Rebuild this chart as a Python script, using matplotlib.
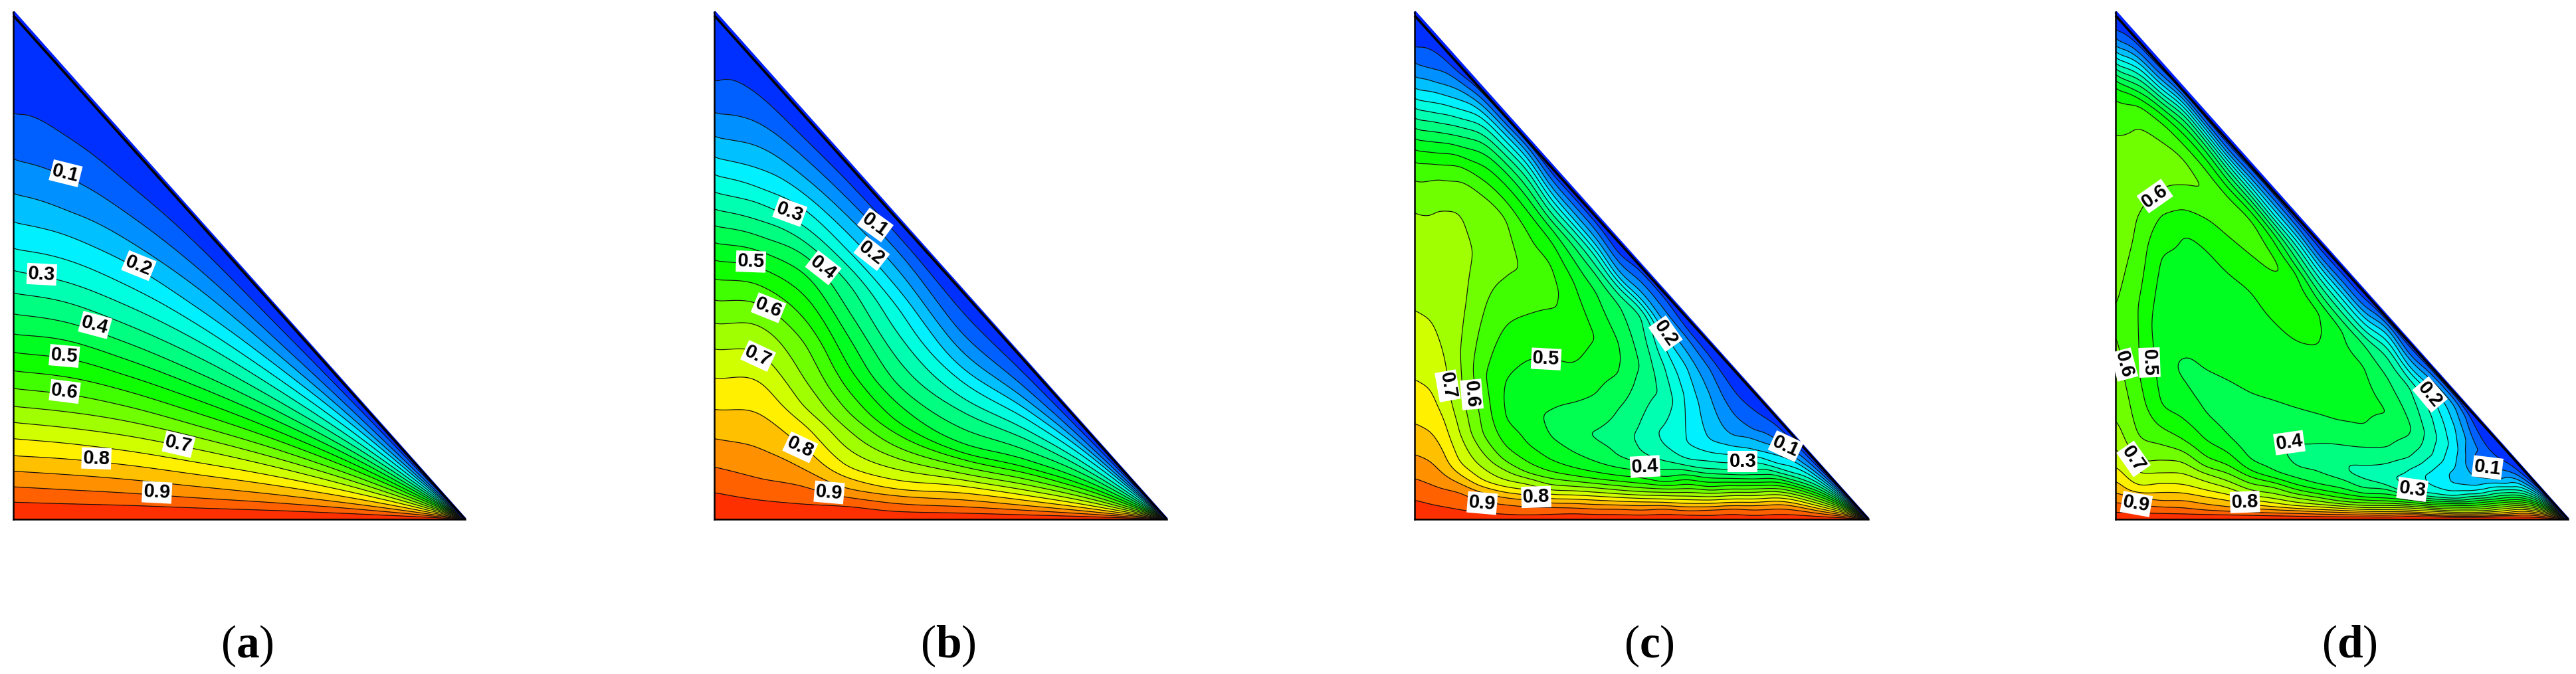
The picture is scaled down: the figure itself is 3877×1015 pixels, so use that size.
import numpy as np
import matplotlib
matplotlib.use("Agg")
import matplotlib.pyplot as plt

plt.rcParams['mathtext.fontset'] = 'custom'
plt.rcParams['mathtext.bf'] = 'Liberation Serif:bold'
plt.rcParams['mathtext.rm'] = 'Liberation Serif'

LEVELS = np.arange(0, 21) * 0.05
BAND_COLORS = ['#0030ff', '#0060ff', '#0090ff', '#00c0ff', '#00f0ff',
               '#00ffdf', '#00ffb0', '#00ff80', '#00ff50', '#00ff20',
               '#10ff00', '#40ff00', '#70ff00', '#a0ff00', '#d0ff00',
               '#fff000', '#ffc000', '#ff9000', '#ff6000', '#ff3000']

# values crossed going up from the bottom edge
DOWN = [.95, .9, .85, .8, .75, .7, .65, .6, .55, .5, .45, .4, .35, .3, .25, .2, .15, .1, .05]

# panels a, b: fraction of the height at which each value of DOWN is met
a_u = [0, .12, .25, .41, .6, .8, .98]
a_frac = [
    [.034, .064, .095, .125, .159, .191, .222, .258, .292, .329, .364, .404, .445, .490, .532, .585, .640, .708, .795],
    [.035, .066, .100, .135, .170, .205, .240, .280, .318, .360, .400, .440, .485, .530, .580, .635, .690, .765, .855],
    [.037, .069, .105, .143, .180, .220, .258, .297, .337, .378, .420, .464, .512, .562, .615, .675, .735, .805, .885],
    [.038, .071, .109, .149, .189, .233, .273, .311, .353, .397, .442, .488, .541, .594, .648, .703, .770, .836, .913],
    [.042, .078, .117, .160, .203, .247, .290, .332, .376, .420, .468, .515, .565, .618, .672, .727, .785, .848, .920],
    [.045, .085, .125, .170, .215, .260, .305, .350, .400, .445, .495, .540, .590, .640, .695, .750, .800, .860, .930],
    [.050, .090, .130, .175, .220, .265, .310, .355, .405, .450, .500, .545, .595, .645, .700, .755, .805, .865, .935],
]

b_u = [0, .1, .2, .3, .404, .55, .697, .85, .98]
b_frac = [
    [.053, .103, .159, .216, .278, .335, .386, .431, .473, .510, .544, .578, .610, .644, .678, .712, .753, .799, .858],
    [.042, .089, .155, .231, .301, .363, .424, .471, .513, .551, .588, .620, .654, .692, .725, .767, .815, .866, .927],
    [.037, .080, .122, .175, .233, .275, .344, .434, .493, .551, .604, .651, .683, .720, .763, .800, .842, .890, .937],
    [.036, .061, .085, .115, .145, .194, .248, .297, .357, .424, .508, .581, .660, .708, .750, .799, .847, .896, .944],
    [.026, .052, .078, .0995, .129, .165, .202, .239, .282, .323, .385, .447, .532, .619, .704, .766, .828, .889, .941],
    [.027, .055, .085, .115, .145, .172, .200, .230, .262, .290, .330, .395, .470, .530, .600, .660, .730, .810, .905],
    [.028, .057, .087, .120, .152, .185, .220, .255, .295, .330, .380, .440, .510, .570, .640, .700, .760, .830, .912],
    [.030, .060, .090, .125, .160, .200, .240, .280, .330, .375, .430, .490, .550, .610, .680, .740, .790, .850, .920],
    [.030, .060, .090, .125, .160, .200, .240, .285, .335, .380, .435, .490, .550, .610, .680, .740, .795, .855, .925],
]

# panels c, d: (height, value) read going up each vertical station
c_u = [0, .05, .1, .15, .2, .25, .3, .35, .4, .45, .5, .55, .6, .65, .7, .75, .8, .9, .97]
c_profile = [
    [(.038,.95),(.081,.9),(.128,.85),(.189,.8),(.275,.75),(.411,.7),(.608,.65),(.667,.6),(.703,.55),(.727,.5),(.748,.45),(.769,.4),(.788,.35),(.808,.3),(.827,.25),(.847,.2),(.869,.15),(.897,.1),(.925,.05)],
    [(.0266,.95),(.0637,.9),(.1008,.85),(.1556,.8),(.2253,.75),(.3649,.7),(.612,.65),(.672,.6),(.70,.55),(.722,.5),(.743,.45),(.763,.4),(.782,.35),(.80,.3),(.82,.25),(.84,.2),(.86,.15),(.885,.1),(.918,.05)],
    [(.0183,.95),(.0531,.9),(.0706,.85),(.088,.8),(.112,.75),(.1687,.7),(.2428,.66),(.33,.652),(.439,.665),(.53,.67),(.604,.65),(.669,.6),(.696,.55),(.716,.5),(.735,.45),(.755,.4),(.773,.35),(.79,.3),(.808,.25),(.826,.2),(.845,.15),(.862,.1),(.878,.05)],
    [(.0126,.95),(.0357,.9),(.0531,.85),(.064,.8),(.0771,.75),(.101,.7),(.1316,.65),(.1687,.6),(.2864,.56),(.40,.6),(.52,.635),(.644,.6),(.669,.55),(.698,.5),(.722,.45),(.742,.4),(.758,.35),(.775,.3),(.79,.25),(.802,.2),(.815,.15),(.828,.1),(.84,.05)],
    [(.0095,.95),(.029,.9),(.0431,.85),(.0531,.8),(.0641,.75),(.0771,.7),(.0967,.65),(.1142,.6),(.1447,.55),(.2,.5),(.2385,.495),(.2733,.5),(.3801,.55),(.476,.6),(.53,.62),(.597,.6),(.628,.55),(.66,.5),(.685,.45),(.703,.4),(.718,.35),(.733,.3),(.746,.25),(.758,.2),(.77,.15),(.78,.1),(.792,.05)],
    [(.0082,.95),(.0248,.9),(.0379,.85),(.0475,.8),(.0575,.75),(.0684,.7),(.0815,.65),(.0902,.6),(.112,.55),(.1469,.5),(.221,.46),(.3147,.5),(.4041,.55),(.48,.59),(.565,.55),(.607,.5),(.633,.45),(.652,.4),(.67,.35),(.685,.3),(.698,.25),(.71,.2),(.722,.15),(.733,.1),(.742,.05)],
    [(.0095,.95),(.0239,.9),(.0322,.85),(.0409,.8),(.0497,.75),(.0575,.7),(.0684,.65),(.0806,.6),(.0937,.55),(.1164,.5),(.1621,.45),(.19,.44),(.2158,.45),(.3169,.5),(.415,.55),(.46,.565),(.504,.55),(.55,.5),(.575,.45),(.59,.4),(.605,.35),(.62,.3),(.632,.25),(.645,.2),(.657,.15),(.672,.1),(.685,.05)],
    [(.0108,.95),(.0226,.9),(.0313,.85),(.04,.8),(.0479,.75),(.0562,.7),(.0649,.65),(.0749,.6),(.0858,.55),(.1011,.5),(.1316,.45),(.1774,.41),(.2297,.45),(.3082,.5),(.3867,.54),(.4695,.5),(.5131,.45),(.54,.4),(.555,.35),(.57,.3),(.58,.25),(.592,.2),(.605,.15),(.62,.1),(.635,.05)],
    [(.0095,.95),(.0204,.9),(.0292,.85),(.0379,.8),(.0457,.75),(.0531,.7),(.0619,.65),(.0706,.6),(.0793,.55),(.0924,.5),(.112,.45),(.1556,.4),(.1665,.395),(.1774,.4),(.248,.45),(.356,.498),(.4477,.45),(.4826,.4),(.499,.35),(.517,.3),(.528,.25),(.54,.2),(.553,.15),(.569,.1),(.584,.05)],
    [(.0091,.95),(.0199,.9),(.0283,.85),(.0357,.8),(.0431,.75),(.0501,.7),(.0575,.65),(.0662,.6),(.0749,.55),(.0858,.5),(.1011,.45),(.1229,.4),(.1687,.375),(.2188,.4),(.2886,.45),(.3169,.455),(.3474,.45),(.4237,.4),(.4434,.35),(.4564,.3),(.4673,.25),(.476,.2),(.4891,.15),(.5066,.1),(.524,.05)],
    [(.0082,.95),(.0183,.9),(.027,.85),(.0344,.8),(.0413,.75),(.0475,.7),(.0544,.65),(.0619,.6),(.0706,.55),(.0815,.5),(.0946,.45),(.1098,.4),(.1316,.35),(.16,.335),(.197,.35),(.2995,.395),(.3976,.35),(.4128,.3),(.4237,.25),(.4325,.2),(.4477,.15),(.4673,.1),(.487,.05)],
    [(.0095,.95),(.0204,.9),(.027,.85),(.0335,.8),(.04,.75),(.0466,.7),(.0531,.65),(.0597,.6),(.0662,.55),(.0736,.5),(.0837,.45),(.0967,.4),(.1142,.35),(.1469,.3),(.1665,.285),(.1861,.3),(.2428,.335),(.3025,.3),(.3413,.25),(.3692,.2),(.388,.15),(.4137,.1),(.4368,.05)],
    [(.0082,.95),(.0169,.9),(.0248,.85),(.0313,.8),(.0387,.75),(.0457,.7),(.0531,.65),(.0605,.6),(.0693,.55),(.078,.5),(.088,.45),(.0967,.4),(.1055,.35),(.1185,.3),(.1491,.25),(.2428,.24),(.2995,.2),(.33,.15),(.3583,.1),(.3758,.05)],
    [(.0073,.95),(.0183,.9),(.0248,.85),(.0313,.8),(.0379,.75),(.0444,.7),(.051,.65),(.0575,.6),(.064,.55),(.0728,.5),(.0815,.45),(.0902,.4),(.099,.35),(.1142,.3),(.1316,.25),(.1556,.2),(.2472,.15),(.2973,.1),(.3213,.05)],
    [(.0095,.95),(.0204,.9),(.027,.85),(.0335,.8),(.04,.75),(.0466,.7),(.0531,.65),(.0597,.6),(.0662,.55),(.0728,.5),(.0806,.45),(.088,.4),(.0967,.35),(.1111,.3),(.1268,.25),(.1438,.2),(.1652,.15),(.2114,.1),(.258,.05)],
    [(.0073,.95),(.0183,.9),(.027,.85),(.0335,.8),(.04,.75),(.0466,.7),(.0531,.65),(.0597,.6),(.0662,.55),(.0728,.5),(.0793,.45),(.088,.4),(.0967,.35),(.112,.3),(.1242,.25),(.1369,.2),(.1569,.15),(.1752,.1),(.2136,.05)],
    [(.0095,.95),(.0204,.9),(.0292,.85),(.0357,.8),(.0422,.75),(.0488,.7),(.0544,.65),(.0605,.6),(.0662,.55),(.0728,.5),(.0793,.45),(.0858,.4),(.0924,.35),(.1011,.3),(.1098,.25),(.1259,.2),(.1425,.15),(.1556,.1),(.1831,.05)],
    [(.005,.95),(.0105,.9),(.015,.85),(.0195,.8),(.024,.75),(.0285,.7),(.033,.65),(.0375,.6),(.042,.55),(.0465,.5),(.051,.45),(.0555,.4),(.0605,.35),(.0655,.3),(.0705,.25),(.0755,.2),(.081,.15),(.087,.1),(.093,.05)],
    [(.0015,.95),(.003,.9),(.0045,.85),(.006,.8),(.0075,.75),(.009,.7),(.0105,.65),(.012,.6),(.0135,.55),(.015,.5),(.0165,.45),(.018,.4),(.0195,.35),(.021,.3),(.0225,.25),(.024,.2),(.0255,.15),(.027,.1),(.0285,.05)],
]

d_u = [0, .05, .1, .15, .2, .25, .3, .35, .4, .45, .5, .55, .6, .65, .7, .75, .8, .85, .9, .97]
d_profile = [
    [(.0135,.95),(.0332,.9),(.0528,.85),(.0767,.8),(.1051,.75),(.1423,.7),(.199,.65),(.373,.6),(.39,.59),(.408,.6),(.58,.645),(.756,.6),(.826,.55),(.85,.5),(.863,.45),(.875,.4),(.886,.35),(.897,.3),(.907,.25),(.92,.2),(.93,.15),(.945,.1),(.96,.05)],
    [(.0124,.95),(.0281,.9),(.0442,.85),(.0516,.8),(.0669,.75),(.0935,.7),(.1161,.65),(.1641,.6),(.28,.555),(.42,.55),(.597,.6),(.68,.64),(.773,.6),(.818,.55),(.83,.5),(.843,.45),(.856,.4),(.868,.35),(.878,.3),(.889,.25),(.90,.2),(.91,.15),(.921,.1),(.935,.05)],
    [(.0115,.95),(.0246,.9),(.0368,.85),(.0529,.8),(.0703,.75),(.0913,.7),(.1161,.65),(.1475,.6),(.1815,.55),(.2251,.5),(.37,.47),(.517,.5),(.599,.55),(.647,.6),(.70,.63),(.747,.6),(.784,.55),(.80,.5),(.812,.45),(.822,.4),(.832,.35),(.84,.3),(.849,.25),(.858,.2),(.867,.15),(.877,.1),(.889,.05)],
    [(.0106,.95),(.0224,.9),(.0368,.85),(.0516,.8),(.0682,.75),(.09,.7),(.1118,.65),(.1336,.6),(.1554,.55),(.1968,.5),(.275,.45),(.295,.44),(.315,.45),(.561,.5),(.611,.55),(.657,.6),(.685,.615),(.712,.6),(.739,.55),(.76,.5),(.775,.45),(.787,.4),(.797,.35),(.805,.3),(.813,.25),(.82,.2),(.828,.15),(.835,.1),(.843,.05)],
    [(.0097,.95),(.018,.9),(.0298,.85),(.0442,.8),(.0573,.75),(.0747,.7),(.09,.65),(.103,.6),(.1227,.55),(.1554,.5),(.2099,.45),(.25,.43),(.292,.45),(.534,.5),(.593,.55),(.648,.6),(.689,.55),(.71,.5),(.725,.45),(.735,.4),(.745,.35),(.752,.3),(.76,.25),(.767,.2),(.775,.15),(.782,.1),(.79,.05)],
    [(.0089,.95),(.0158,.9),(.0245,.85),(.0368,.8),(.0485,.75),(.0616,.7),(.0747,.65),(.09,.6),(.1052,.55),(.1301,.5),(.1641,.45),(.21,.42),(.271,.45),(.487,.5),(.557,.55),(.60,.58),(.636,.55),(.652,.5),(.667,.45),(.678,.4),(.688,.35),(.697,.3),(.705,.25),(.712,.2),(.72,.15),(.728,.1),(.738,.05)],
    [(.008,.95),(.0137,.9),(.0215,.85),(.0289,.8),(.0385,.75),(.0472,.7),(.0573,.65),(.0703,.6),(.0834,.55),(.0952,.5),(.1161,.45),(.16,.41),(.247,.45),(.449,.5),(.52,.55),(.56,.575),(.59,.55),(.605,.5),(.618,.45),(.627,.4),(.637,.35),(.645,.3),(.654,.25),(.662,.2),(.671,.15),(.68,.1),(.69,.05)],
    [(.0071,.95),(.0124,.9),(.019,.85),(.0246,.8),(.0324,.75),(.041,.7),(.0507,.65),(.0629,.6),(.0725,.55),(.0813,.5),(.0943,.45),(.15,.405),(.233,.45),(.39,.5),(.49,.55),(.50,.56),(.517,.55),(.548,.5),(.563,.45),(.573,.4),(.583,.35),(.591,.3),(.60,.25),(.61,.2),(.62,.15),(.63,.1),(.64,.05)],
    [(.0062,.95),(.0115,.9),(.0171,.85),(.0215,.8),(.0267,.75),(.0333,.7),(.042,.65),(.0498,.6),(.0586,.55),(.0682,.5),(.0813,.45),(.1039,.4),(.125,.385),(.1488,.4),(.218,.45),(.352,.5),(.43,.535),(.483,.5),(.497,.45),(.513,.4),(.527,.35),(.538,.3),(.549,.25),(.558,.2),(.568,.15),(.578,.1),(.588,.05)],
    [(.0054,.95),(.0102,.9),(.015,.85),(.0193,.8),(.0246,.75),(.029,.7),(.0355,.65),(.0429,.6),(.0498,.55),(.0586,.5),(.069,.45),(.0921,.4),(.12,.38),(.15,.4),(.205,.45),(.347,.5),(.375,.505),(.407,.5),(.43,.45),(.447,.4),(.463,.35),(.476,.3),(.488,.25),(.499,.2),(.51,.15),(.52,.1),(.535,.05)],
    [(.0049,.95),(.0093,.9),(.0137,.85),(.0176,.8),(.0215,.75),(.0259,.7),(.0302,.65),(.0355,.6),(.042,.55),(.0507,.5),(.0607,.45),(.0791,.4),(.0921,.36),(.115,.355),(.146,.4),(.192,.45),(.28,.48),(.373,.45),(.392,.4),(.408,.35),(.422,.3),(.435,.25),(.447,.2),(.458,.15),(.47,.1),(.485,.05)],
    [(.0049,.95),(.0084,.9),(.0124,.85),(.0158,.8),(.0193,.75),(.0228,.7),(.0272,.65),(.0324,.6),(.0376,.55),(.0442,.5),(.0507,.45),(.0616,.4),(.0791,.35),(.092,.33),(.106,.35),(.1415,.4),(.186,.45),(.24,.465),(.30,.45),(.343,.4),(.36,.35),(.372,.3),(.385,.25),(.397,.2),(.408,.15),(.42,.1),(.435,.05)],
    [(.0045,.95),(.008,.9),(.0115,.85),(.015,.8),(.019,.75),(.023,.7),(.027,.65),(.0315,.6),(.036,.55),(.0415,.5),(.0495,.45),(.059,.4),(.066,.35),(.085,.31),(.11,.35),(.142,.4),(.21,.45),(.28,.4),(.32,.35),(.338,.3),(.352,.25),(.365,.2),(.376,.15),(.385,.1),(.392,.05)],
    [(.0058,.95),(.0093,.9),(.0115,.85),(.0145,.8),(.018,.75),(.0224,.7),(.0259,.65),(.0289,.6),(.0333,.55),(.0376,.5),(.042,.45),(.0472,.4),(.0516,.35),(.0573,.3),(.0769,.275),(.0987,.3),(.1227,.35),(.1663,.4),(.1793,.405),(.1902,.4),(.26,.35),(.275,.3),(.29,.25),(.30,.2),(.315,.15),(.325,.1),(.34,.05)],
    [(.0049,.95),(.0071,.9),(.0093,.85),(.0124,.8),(.0158,.75),(.0189,.7),(.0224,.65),(.0254,.6),(.0289,.55),(.0324,.5),(.0363,.45),(.0403,.4),(.0442,.35),(.0507,.3),(.066,.25),(.0812,.23),(.0965,.25),(.127,.3),(.1641,.32),(.199,.3),(.2447,.25),(.2578,.2),(.2731,.15),(.284,.1),(.2927,.05)],
    [(.0041,.95),(.0058,.9),(.008,.85),(.0106,.8),(.0137,.75),(.0167,.7),(.0202,.65),(.0237,.6),(.0272,.55),(.0307,.5),(.0342,.45),(.0376,.4),(.0411,.35),(.0464,.3),(.0551,.25),(.069,.2),(.0856,.185),(.103,.2),(.1423,.22),(.1815,.2),(.222,.15),(.235,.1),(.243,.05)],
    [(.0041,.95),(.0058,.9),(.008,.85),(.0106,.8),(.0137,.75),(.0167,.7),(.0202,.65),(.0237,.6),(.028,.55),(.0324,.5),(.0368,.45),(.0411,.4),(.0455,.35),(.0498,.3),(.0573,.25),(.066,.2),(.0821,.15),(.0987,.1),(.1183,.085),(.1379,.1),(.1728,.05)],
    [(.0049,.95),(.0071,.9),(.0093,.85),(.0124,.8),(.0158,.75),(.0202,.7),(.0237,.65),(.028,.6),(.0324,.55),(.0368,.5),(.0411,.45),(.0464,.4),(.0516,.35),(.0573,.3),(.0638,.25),(.0708,.2),(.0778,.15),(.0965,.1),(.1183,.05)],
    [(.0045,.95),(.0085,.9),(.012,.85),(.016,.8),(.0195,.75),(.023,.7),(.0265,.65),(.03,.6),(.034,.55),(.038,.5),(.042,.45),(.046,.4),(.051,.35),(.056,.3),(.0615,.25),(.067,.2),(.073,.15),(.0805,.1),(.088,.05)],
    [(.0015,.95),(.003,.9),(.0045,.85),(.006,.8),(.0075,.75),(.009,.7),(.0105,.65),(.012,.6),(.0135,.55),(.015,.5),(.0165,.45),(.018,.4),(.0195,.35),(.021,.3),(.0225,.25),(.024,.2),(.0255,.15),(.027,.1),(.0285,.05)],
]

# contour labels: text, station, height, angle
a_labels = [('0.1', .116, .682, -14), ('0.2', .278, .500, -22), ('0.3', .063, .483, -3),
            ('0.4', .181, .383, -15), ('0.5', .113, .322, -5), ('0.6', .114, .252, -7),
            ('0.7', .366, .148, -13), ('0.8', .184, .120, -2), ('0.9', .318, .053, -3)]
b_labels = [('0.1', .356, .580, -36), ('0.2', .348, .524, -38), ('0.3', .167, .606, -20),
            ('0.4', .241, .496, -38), ('0.5', .081, .508, -2), ('0.6', .120, .417, -22),
            ('0.7', .097, .322, -25), ('0.8', .190, .142, -25), ('0.9', .254, .053, -5)]
c_labels = [('0.1', .818, .144, -25), ('0.2', .553, .366, -55), ('0.3', .723, .114, 0),
            ('0.4', .508, .104, 3), ('0.5', .290, .316, -3), ('0.6', .126, .246, -85),
            ('0.7', .073, .263, -80), ('0.8', .268, .044, 2), ('0.9', .149, .032, -5)]
d_labels = [('0.1', .822, .102, -7), ('0.2', .695, .246, -50), ('0.3', .656, .059, -8),
            ('0.4', .384, .151, 8), ('0.5', .075, .309, -88), ('0.6', .087, .637, 35),
            ('0.6', .019, .305, -75), ('0.7', .040, .119, -55), ('0.8', .286, .034, 2),
            ('0.9', .046, .030, -10)]

captions = ['a', 'b', 'c', 'd']
left_px = [20, 1075, 2129, 3184]
right_px = [700, 1756, 2812, 3865]
caption_px = [372, 1427, 2482, 3536]

W, H = 3877, 1015
TOP, BOTTOM = 18, 782


def profile_from_frac(frac):
    return [(np.array(row), np.array(DOWN)) for row in frac]


def profile_from_pairs(u, rows):
    out = []
    for ui, row in zip(u, rows):
        h, v = np.array(row).T
        out.append((h / (1 - ui), v))
    return out


def field(u, profiles, theta):
    # value at every station on a common grid of height fractions
    m = np.zeros((len(u), len(theta)))
    for i, (t, v) in enumerate(profiles):
        order = np.argsort(t)
        t = np.r_[0, t[order], 1]
        v = np.r_[1, v[order], 0]
        m[i] = np.interp(theta, t, v)
    return m


def smooth_rows(u, m, u_fine):
    # cubic hermite between stations
    s = np.gradient(m, u, axis=0)
    i = np.clip(np.searchsorted(u, u_fine) - 1, 0, len(u) - 2)
    h = (u[i + 1] - u[i])[:, None]
    t = ((u_fine - u[i]) / (u[i + 1] - u[i]))[:, None]
    out = ((2 * t**3 - 3 * t**2 + 1) * m[i] + (t**3 - 2 * t**2 + t) * h * s[i]
           + (-2 * t**3 + 3 * t**2) * m[i + 1] + (t**3 - t**2) * h * s[i + 1])
    return np.clip(out, 0, 1)


def box(z, n, axis):
    # two box passes, edges held
    kernel = np.ones(n) / n
    for _ in range(2):
        pad = [(0, 0), (0, 0)]
        pad[axis] = (n // 2, n // 2)
        padded = np.pad(z, pad, mode='edge')
        z = np.apply_along_axis(lambda r: np.convolve(r, kernel, mode='valid'), axis, padded)
    return z


def draw_panel(ax, u, profiles, labels):
    u = np.array(list(u) + [0.9995])
    profiles = list(profiles) + [profiles[-1]]
    # grid packed towards both long edges, where the lines crowd
    s = np.linspace(0, 1, 500)
    theta = (1 - np.cos(np.pi * s)) / 2
    m = field(u, profiles, theta)
    u_fine = np.linspace(0, 0.9995, 700)
    z = smooth_rows(u, m, u_fine)
    z = box(box(z, 15, 0), 9, 1)
    X, T = np.meshgrid(u_fine, theta, indexing='ij')
    Y = T * (1 - X)

    ax.contourf(X, Y, z, levels=LEVELS, colors=BAND_COLORS)
    ax.contour(X, Y, z, levels=LEVELS[1:-1], colors='#101010', linewidths=0.85)

    ax.plot([0, 1], [1, 0], color='#0020ff', lw=3.2, solid_capstyle='butt', clip_on=False)
    ax.plot([0, 1], [0.993, 0], color='black', lw=2.6, solid_capstyle='butt', clip_on=False)
    ax.plot([0, 0], [0, 1], color='black', lw=1.8, clip_on=False)
    ax.plot([0, 1], [0, 0], color='black', lw=1.8, clip_on=False)

    for text, lx, ly, angle in labels:
        ax.text(lx, ly, text, rotation=angle, rotation_mode='anchor', ha='center', va='center',
                family='Liberation Sans', fontsize=21, fontweight='bold', color='black',
                bbox=dict(fc='white', ec='none', pad=1.5), zorder=5)

    ax.set_xlim(0, 1)
    ax.set_ylim(0, 1)
    ax.axis('off')


fig = plt.figure(figsize=(W / 100, H / 100), dpi=100)
panels = [
    (a_u, profile_from_frac(a_frac), a_labels),
    (b_u, profile_from_frac(b_frac), b_labels),
    (c_u, profile_from_pairs(c_u, c_profile), c_labels),
    (d_u, profile_from_pairs(d_u, d_profile), d_labels),
]

for k, (u, profiles, labels) in enumerate(panels):
    ax = fig.add_axes([left_px[k] / W, 1 - BOTTOM / H, (right_px[k] - left_px[k]) / W, (BOTTOM - TOP) / H])
    draw_panel(ax, u, profiles, labels)
    fig.text(caption_px[k] / W, 1 - 990 / H, r'($\mathbf{%s}$)' % captions[k], ha='center', va='baseline',
             family='Liberation Serif', fontsize=50, color='black')

fig.savefig('out.png', dpi=100)
